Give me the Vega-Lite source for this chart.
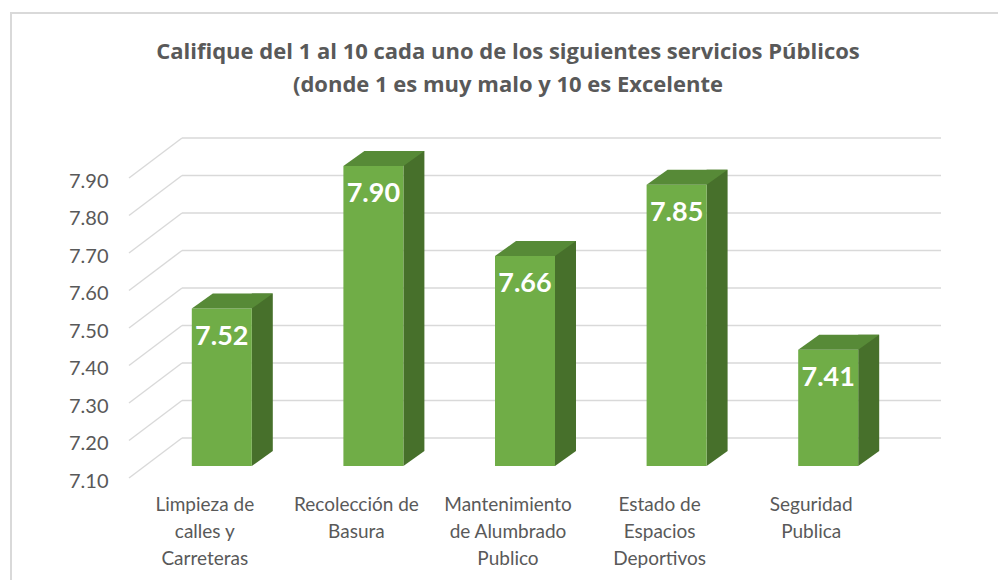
{
  "$schema": "https://vega.github.io/schema/vega-lite/v6.json",
  "width": 758,
  "height": 300,
  "autosize": "none",
  "padding": {"left": 129, "top": 178, "right": 111, "bottom": 102},
  "background": "white",
  "config": {
    "view": {"stroke": null},
    "font": "Lato"
  },
  "title": {
    "text": ["Califique del 1 al 10 cada uno de los siguientes servicios Públicos", "(donde 1 es muy malo y 10 es Excelente"],
    "anchor": "middle",
    "frame": "group",
    "font": "Open Sans",
    "fontSize": 22,
    "fontWeight": "bold",
    "color": "#595959",
    "lineHeight": 33,
    "offset": -85
  },
  "datasets": {
    "servicios": [
      {"servicio": "Limpieza de calles y Carreteras", "calificacion": 7.52},
      {"servicio": "Recolección de Basura", "calificacion": 7.90},
      {"servicio": "Mantenimiento de Alumbrado Publico", "calificacion": 7.66},
      {"servicio": "Estado de Espacios Deportivos", "calificacion": 7.85},
      {"servicio": "Seguridad Publica", "calificacion": 7.41}
    ],
    "grid": [
      {"v": 7.1}, {"v": 7.2}, {"v": 7.3}, {"v": 7.4}, {"v": 7.5},
      {"v": 7.6}, {"v": 7.7}, {"v": 7.8}, {"v": 7.9}
    ]
  },
  "layer": [
    {
      "data": {"values": [{}]},
      "mark": {"type": "rule", "color": "#d9d9d9", "strokeWidth": 2},
      "encoding": {
        "x": {"value": -118},
        "y": {"value": -165},
        "y2": {"value": 410}
      }
    },
    {
      "data": {"values": [{}]},
      "mark": {"type": "rule", "color": "#d9d9d9", "strokeWidth": 2},
      "encoding": {
        "x": {"value": -119},
        "x2": {"value": 880},
        "y": {"value": -165}
      }
    },
    {
      "data": {"name": "grid"},
      "mark": {"type": "rule", "color": "#d9d9d9", "strokeWidth": 1.4, "yOffset": -40},
      "encoding": {
        "x": {"value": 53},
        "x2": {"value": 812},
        "y": {"field": "v", "type": "quantitative", "scale": {"domain": [7.1, 7.9], "zero": false, "nice": false}}
      }
    },
    {
      "data": {"name": "grid"},
      "mark": {"type": "rule", "color": "#d9d9d9", "strokeWidth": 1.4, "y2Offset": -40},
      "encoding": {
        "x": {"value": 0},
        "x2": {"value": 53},
        "y": {"field": "v", "type": "quantitative"},
        "y2": {"field": "v"}
      }
    },
    {
      "data": {"name": "servicios"},
      "layer": [
        {
          "mark": {"type": "bar", "width": 21, "xOffset": 57.5, "yOffset": -27, "y2Offset": -27, "color": "#47702b"},
          "encoding": {
            "y": {"field": "calificacion", "type": "quantitative"},
            "y2": {"datum": 7.1}
          }
        },
        {
          "mark": {"type": "point", "filled": true, "opacity": 1, "size": 3600, "shape": "M0,0L0,-0.5L0.7,-0.5Z", "xOffset": 47, "yOffset": -12, "color": "#47702b", "strokeWidth": 0},
          "encoding": {
            "y": {"datum": 7.1}
          }
        },
        {
          "mark": {"type": "bar", "width": 60, "xOffset": 17, "yOffset": -12, "y2Offset": -12, "color": "#70ad47"},
          "encoding": {
            "y": {"field": "calificacion", "type": "quantitative"},
            "y2": {"datum": 7.1}
          }
        },
        {
          "mark": {"type": "point", "filled": true, "opacity": 1, "size": 3600, "shape": "M-1,0L1,0L1.7,-0.5L-0.3,-0.5Z", "xOffset": 17, "yOffset": -12, "color": "#578a37", "strokeWidth": 0},
          "encoding": {
            "y": {"field": "calificacion", "type": "quantitative"}
          }
        },
        {
          "mark": {"type": "text", "font": "Lato", "fontSize": 27, "fontWeight": "bold", "color": "white", "baseline": "middle", "align": "center", "xOffset": 17, "yOffset": 16},
          "encoding": {
            "y": {"field": "calificacion", "type": "quantitative"},
            "text": {"field": "calificacion", "type": "quantitative", "format": ".2f"}
          }
        }
      ],
      "encoding": {
        "x": {
          "field": "servicio",
          "type": "nominal",
          "sort": null,
          "scale": {"paddingInner": 0, "paddingOuter": 0},
          "axis": {
            "title": null,
            "domain": false,
            "ticks": false,
            "labelAngle": 0,
            "labelPadding": 17,
            "labelFont": "Lato",
            "labelFontSize": 19,
            "labelColor": "#595959",
            "labelLineHeight": 27,
            "labelLimit": 300,
            "labelExpr": "datum.label == 'Limpieza de calles y Carreteras' ? ['Limpieza de', 'calles y', 'Carreteras'] : datum.label == 'Recolección de Basura' ? ['Recolección de', 'Basura'] : datum.label == 'Mantenimiento de Alumbrado Publico' ? ['Mantenimiento', 'de Alumbrado', 'Publico'] : datum.label == 'Estado de Espacios Deportivos' ? ['Estado de', 'Espacios', 'Deportivos'] : ['Seguridad', 'Publica']"
          }
        }
      }
    }
  ],
  "encoding": {
    "y": {
      "axis": {
        "title": null,
        "domain": false,
        "ticks": false,
        "grid": false,
        "values": [7.1, 7.2, 7.3, 7.4, 7.5, 7.6, 7.7, 7.8, 7.9],
        "format": ".2f",
        "labelPadding": 21,
        "labelOffset": 3,
        "labelFont": "Lato",
        "labelFontSize": 20,
        "labelColor": "#595959"
      }
    }
  }
}
